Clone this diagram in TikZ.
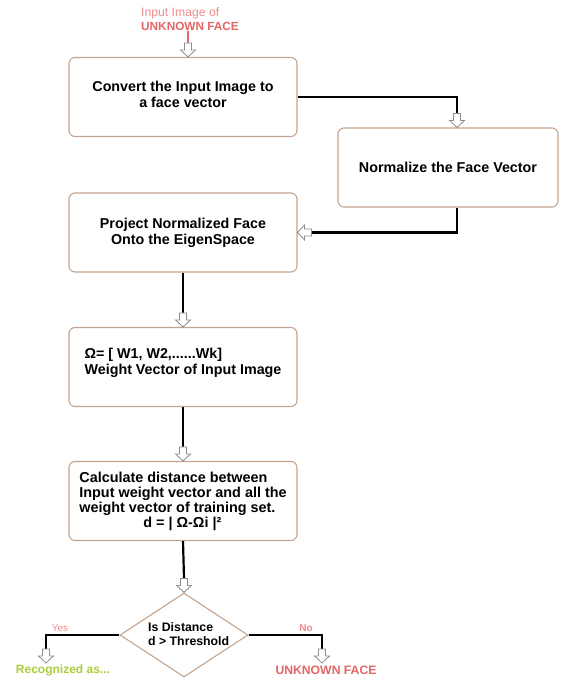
\documentclass[tikz,border=0pt]{standalone}
\usepackage{fontspec}
\setmainfont{Liberation Sans}
\usetikzlibrary{shapes.geometric,calc}
\definecolor{boxline}{HTML}{C4A48E}
\definecolor{pinktxt}{HTML}{EE8C8C}
\definecolor{redtxt}{HTML}{E26666}
\definecolor{greentxt}{HTML}{AACF3A}
\definecolor{arrgray}{HTML}{8C8C8C}
\tikzset{
  procbox/.style={draw=boxline, line width=1.1pt, rounded corners=6pt, fill=white,
    minimum width=228pt, minimum height=79pt, inner sep=0pt, align=center,
    font=\fontsize{14.3}{16}\selectfont\bfseries},
  decbox/.style={diamond, draw=boxline, line width=1.1pt, fill=white, aspect=1.52,
    inner sep=0pt, minimum width=128pt, minimum height=84pt},
  dectext/.style={inner sep=0pt, anchor=west, align=left,
    font=\fontsize{12.3}{14}\selectfont\bfseries},
  conn/.style={draw=black, line width=2.2pt},
  redline/.style={draw=redtxt, line width=2pt},
  harrowdown/.pic={\draw[arrgray, fill=white, line width=0.8pt]
    (-3.5,-14) -- (3.5,-14) -- (3.5,-7) -- (7.5,-7) -- (0,0) -- (-7.5,-7) -- (-3.5,-7) -- cycle;},
  harrowleft/.pic={\draw[arrgray, fill=white, line width=0.8pt]
    (14,-3.5) -- (14,3.5) -- (7,3.5) -- (7,7.5) -- (0,0) -- (7,-7.5) -- (7,-3.5) -- cycle;},
  titlesmall/.style={text=pinktxt, inner sep=0pt, anchor=west, font=\fontsize{12.2}{14}\selectfont},
  titlebold/.style={text=redtxt, inner sep=0pt, anchor=west, font=\fontsize{11.8}{14}\selectfont\bfseries},
  branchlab/.style={text=pinktxt, inner sep=0pt, font=\fontsize{10}{12}\selectfont},
  resultred/.style={text=redtxt, inner sep=0pt, font=\fontsize{12.2}{14}\selectfont\bfseries},
  resultgreen/.style={text=greentxt, inner sep=0pt, font=\fontsize{12}{14}\selectfont\bfseries},
}
\begin{document}
\begin{tikzpicture}[x=1pt,y=-1pt]
\useasboundingbox[fill=white] (0,0) rectangle (563,678);
% title
\node[titlesmall] (t1) at (141,13) {Input Image of};
\node[titlebold] (t2) at (141,26.5) {UNKNOWN FACE};
% boxes
\node[procbox] (b1) at (183,97) {\mbox{}\\[-10pt]Convert the Input Image to\\a face vector};
\node[procbox, minimum width=220pt] (b2) at (448,167.5) {Normalize the Face Vector};
\node[procbox] (b3) at (183,232.5) {Project Normalized Face\\Onto the EigenSpace};
\node[procbox, align=left] (b4) at (183,367) {Ω= [ W1, W2,......Wk]\\Weight Vector of Input Image\\[-4pt]};
\node[procbox, align=left, font=\fontsize{14.4}{15}\selectfont\bfseries] (b5) at (183,501)
  {Calculate distance between\\Input weight vector and all the\\weight vector of training set.\\\hspace*{64pt}d = | Ω-Ωi |²};
\node[decbox] (dia) at (184,635) {};
\node[dectext] (diatext) at (148,634) {Is Distance\\d > Threshold};
% branch labels and results
\node[branchlab] (ylab) at (60,628) {Yes};
\node[branchlab, font=\fontsize{10}{12}\selectfont\bfseries] (nlab) at (306,628) {No};
\node[resultgreen] (rec) at (63,670.5) {Recognized as...};
\node[resultred] (unk) at (326,670.5) {UNKNOWN FACE};
% helper coordinates
\coordinate (cx1) at (188,0);
\coordinate (cx2) at (457,0);
\coordinate (ytip) at (46,663);
\coordinate (ntip) at (322,663);
% connectors
\draw[redline] (t2.south -| cx1) -- ($(b1.north -| cx1)+(0,-14)$);
\pic at (b1.north -| cx1) {harrowdown};
\draw[conn] (b1.east) -| ($(b2.north -| cx2)+(0,-14)$);
\pic at (b2.north -| cx2) {harrowdown};
\draw[conn] (b2.south -| cx2) |- ($(b3.east)+(14,0)$);
\pic at (b3.east) {harrowleft};
\draw[conn] (b3.south) -- ($(b4.north)+(0,-14)$);
\pic at (b4.north) {harrowdown};
\draw[conn] (b4.south) -- ($(b5.north)+(0,-14)$);
\pic at (b5.north) {harrowdown};
\draw[conn] (b5.south) -- ($(dia.north)+(0,-14)$);
\pic at (dia.north) {harrowdown};
\draw[conn] (dia.west) -| ($(ytip)+(0,-14)$);
\pic at (ytip) {harrowdown};
\draw[conn] (dia.east) -| ($(ntip)+(0,-14)$);
\pic at (ntip) {harrowdown};
\end{tikzpicture}
\end{document}
